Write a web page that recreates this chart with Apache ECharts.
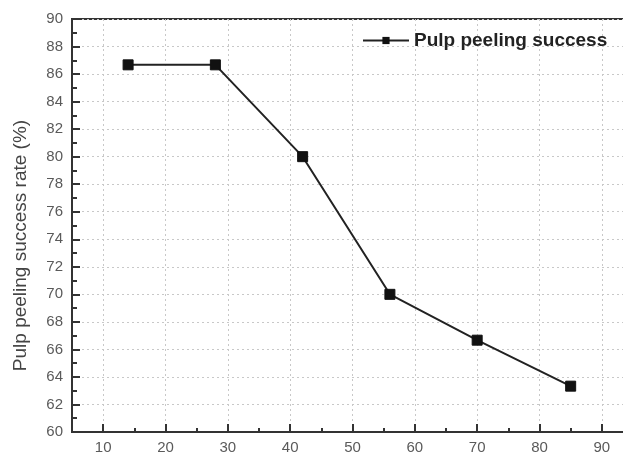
<!DOCTYPE html>
<html>
<head>
<meta charset="utf-8">
<script src="https://cdn.jsdelivr.net/npm/echarts@6/dist/echarts.min.js"></script>
<style>
  html, body { margin: 0; padding: 0; background: #fff; overflow: hidden; }
  /* the plot frame runs on past the right edge of the window */
  #chart { width: 633px; height: 457px; }
</style>
</head>
<body>
<div id="chart"></div>
<script>
// Pulp peeling success rate measured at each setting
const xValues = [14, 28, 42, 56, 70, 85];
const successRate = [86.67, 86.67, 80, 70, 66.67, 63.33];
const seriesName = 'Pulp peeling success';
const yAxisTitle = 'Pulp peeling success rate (%)';
const xTickValues = [10, 20, 30, 40, 50, 60, 70, 80, 90];

const points = xValues.map((x, i) => [x, successRate[i]]);

const axisColor = '#333';
const labelColor = '#5a5a5a';
const gridColor = '#c8c8c8';
const fontFamily = 'Liberation Sans, Arial, sans-serif';

const gridBox = { left: 72, top: 19, right: 0, bottom: 25 };

const chart = echarts.init(document.getElementById('chart'), null, { renderer: 'canvas' });

chart.setOption({
  animation: false,
  backgroundColor: '#fff',
  grid: [
    Object.assign({ show: true, borderColor: axisColor, borderWidth: 2, backgroundColor: 'transparent', containLabel: false }, gridBox),
    Object.assign({ show: false, containLabel: false }, gridBox)
  ],
  legend: {
    data: [seriesName],
    left: 357,
    top: 26,
    itemWidth: 46,
    itemHeight: 9,
    textStyle: { fontFamily: fontFamily, fontSize: 19, fontWeight: 'bold', color: '#222' }
  },
  xAxis: [
    {
      gridIndex: 0,
      type: 'value',
      min: 5,
      max: 95,
      interval: 5,
      axisLine: { show: true, onZero: false, lineStyle: { color: axisColor, width: 2 } },
      axisTick: {
        show: true, inside: true, length: 8,
        customValues: xTickValues,
        lineStyle: { color: axisColor, width: 2 }
      },
      axisLabel: {
        color: labelColor, fontFamily: fontFamily, fontSize: 15, margin: 8,
        customValues: xTickValues
      },
      splitLine: {
        show: true,
        customValues: xTickValues,
        lineStyle: { color: gridColor, type: [2, 3], width: 1 }
      }
    },
    {
      // short ticks at every 5
      gridIndex: 1,
      type: 'value',
      min: 5,
      max: 95,
      interval: 5,
      axisLine: { show: false },
      axisTick: {
        show: true, inside: true, length: 4,
        lineStyle: { color: axisColor, width: 2 }
      },
      axisLabel: { show: false },
      splitLine: { show: false }
    }
  ],
  yAxis: [
    {
      gridIndex: 0,
      type: 'value',
      min: 60,
      max: 90,
      interval: 2,
      name: yAxisTitle,
      nameLocation: 'middle',
      nameGap: 42,
      nameTextStyle: { color: '#444', fontFamily: fontFamily, fontSize: 19, padding: [0, 40, 0, 0] },
      axisLine: { show: true, onZero: false, lineStyle: { color: axisColor, width: 2 } },
      axisTick: { show: true, inside: true, length: 8, lineStyle: { color: axisColor, width: 2 } },
      minorTick: { show: true, splitNumber: 2, length: 5, lineStyle: { color: axisColor, width: 2 } },
      axisLabel: { color: labelColor, fontFamily: fontFamily, fontSize: 15, margin: 9 },
      splitLine: { show: true, lineStyle: { color: gridColor, type: [2, 3], width: 1 } }
    },
    {
      gridIndex: 1,
      type: 'value',
      min: 60,
      max: 90,
      show: false
    }
  ],
  series: [
    {
      name: seriesName,
      type: 'line',
      xAxisIndex: 0,
      yAxisIndex: 0,
      data: points,
      symbol: 'rect',
      symbolSize: 10,
      lineStyle: { color: '#222', width: 2 },
      itemStyle: { color: '#111', borderColor: '#111' }
    }
  ]
});
</script>
</body>
</html>
